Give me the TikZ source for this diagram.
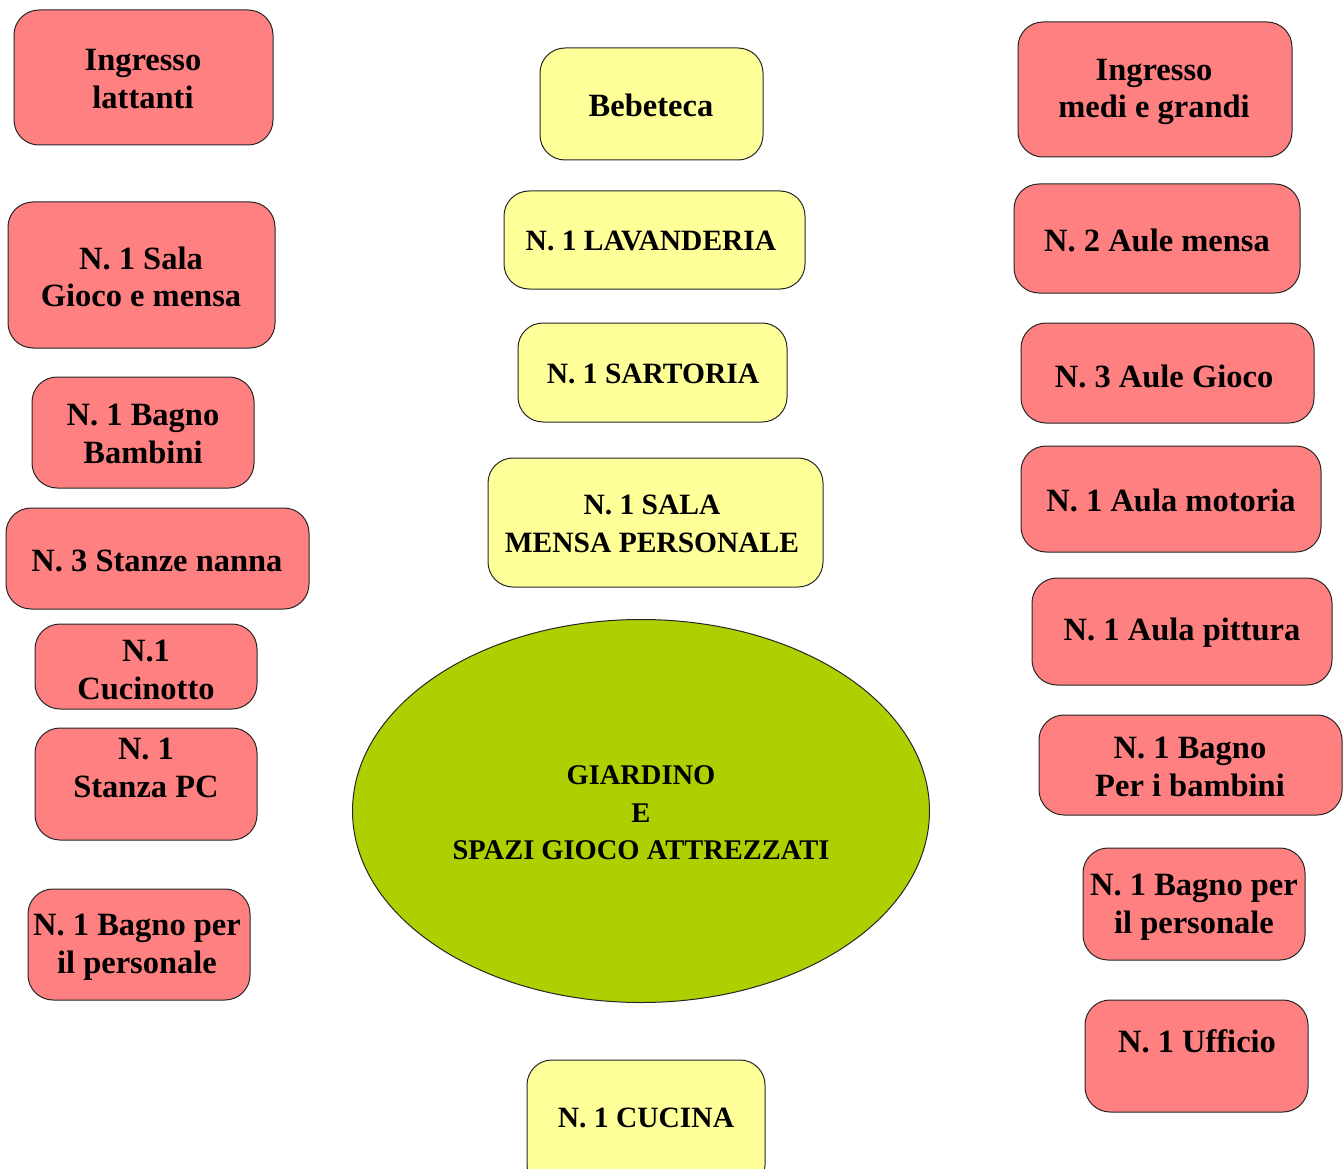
\documentclass[tikz,border=0pt]{standalone}
\usepackage{fontspec}
\setmainfont{Liberation Serif}
\usepackage{xcolor}
\usepackage{tikz}
\usetikzlibrary{positioning,shapes.geometric}

\definecolor{rosso}{HTML}{FF8080}
\definecolor{giallo}{HTML}{FFFF99}
\definecolor{verde}{HTML}{AECF00}

\begin{document}
\begin{tikzpicture}[x=1pt,y=-1pt, line cap=round, line join=round, font=\bfseries]
	\useasboundingbox (0,0) rectangle (1344,1169);
	
	% ===== stili =====
	\tikzset{stanza/.style={draw=black!85, fill=rosso, line width=1pt, rounded corners=25pt},
		servizio/.style={draw=black!85, fill=giallo, line width=1pt, rounded corners=25pt},
		txt/.style={align=center, inner sep=0pt, font=\bfseries\fontsize{32.5}{37.5}\selectfont},
		txtmaiusc/.style={align=center, inner sep=0pt, font=\bfseries\fontsize{29.5}{37.5}\selectfont}}
	
	% ===== colonna sinistra =====
	\draw[stanza] (14,10) rectangle (273,145);
	\node[txt] (ingLattanti) at (143,79) {Ingresso\\lattanti};
	
	\draw[stanza] (8,202) rectangle (275,348);
	\node[txt] (salaGioco) at (141,277) {N. 1 Sala\\Gioco e mensa};
	
	\draw[stanza] (32,377) rectangle (254,488);
	\node[txt] (bagnoBambini) at (143,434) {N. 1 Bagno\\Bambini};
	
	\draw[stanza] (6,508) rectangle (309,609);
	\node[txt] (stanzeNanna) at (157,561) {N. 3 Stanze nanna};
	
	\draw[stanza] (35,624) rectangle (257,709);
	\node[txt] (cucinotto) at (146,670) {N.1\\Cucinotto};
	
	\draw[stanza] (35,728) rectangle (257,840);
	\node[txt] (stanzaPC) at (146,768) {N. 1\\Stanza PC};
	
	\draw[stanza] (28,889) rectangle (250,1000);
	\node[txt] (bagnoPersSx) at (137,947) {N. 1 Bagno per\\il personale};
	
	% ===== colonna centrale =====
	\draw[servizio] (540,48) rectangle (763,160);
	\node[txt] (bebeteca) at (651,105) {Bebeteca};
	
	\draw[servizio] (504,191) rectangle (805,289);
	\node[txtmaiusc] (lavanderia) at (651,241) {N. 1 LAVANDERIA};
	
	\draw[servizio] (518,323) rectangle (787,422);
	\node[txtmaiusc] (sartoria) at (653,374) {N. 1 SARTORIA};
	
	\draw[servizio] (488,458) rectangle (823,587);
	\node[txtmaiusc] (salaMensa) at (652,524) {N. 1 SALA\\MENSA PERSONALE};
	
	% giardino
	\node[ellipse, draw=black!85, fill=verde, line width=1pt, minimum width=577pt, minimum height=383pt,
		inner sep=0pt] (giardino) at (641,811) {};
	\node[txtmaiusc, font=\bfseries\fontsize{28.5}{37.5}\selectfont] (giardinoTxt) at (641,813)
		{GIARDINO\\E\\SPAZI GIOCO ATTREZZATI};
	
	\draw[servizio] (527,1060) rectangle (765,1190);
	\node[txtmaiusc] (cucina) at (646,1118) {N. 1 CUCINA};
	
	% ===== colonna destra =====
	\draw[stanza] (1018,22) rectangle (1292,157);
	\node[txt] (ingMedi) at (1154,92) {Ingresso\\medi e grandi};
	
	\draw[stanza] (1014,184) rectangle (1300,293);
	\node[txt] (auleMensa) at (1157,240) {N. 2 Aule mensa};
	
	\draw[stanza] (1021,323) rectangle (1314,423);
	\node[txt] (auleGioco) at (1164,376) {N. 3 Aule Gioco};
	
	\draw[stanza] (1021,446) rectangle (1321,552);
	\node[txt] (aulaMotoria) at (1171,500) {N. 1 Aula motoria};
	
	\draw[stanza] (1032,578) rectangle (1332,685);
	\node[txt] (aulaPittura) at (1182,633) {N. 1 Aula pittura};
	
	\draw[stanza] (1039,715) rectangle (1342,815);
	\node[txt] (bagnoBimbi) at (1190,767) {N. 1 Bagno\\Per i bambini};
	
	\draw[stanza] (1083,848) rectangle (1305,960);
	\node[txt] (bagnoPersDx) at (1194,907) {N. 1 Bagno per\\il personale};
	
	\draw[stanza] (1085,1000) rectangle (1308,1112);
	\node[txt] (ufficio) at (1197,1041) {N. 1 Ufficio};
\end{tikzpicture}
\end{document}
